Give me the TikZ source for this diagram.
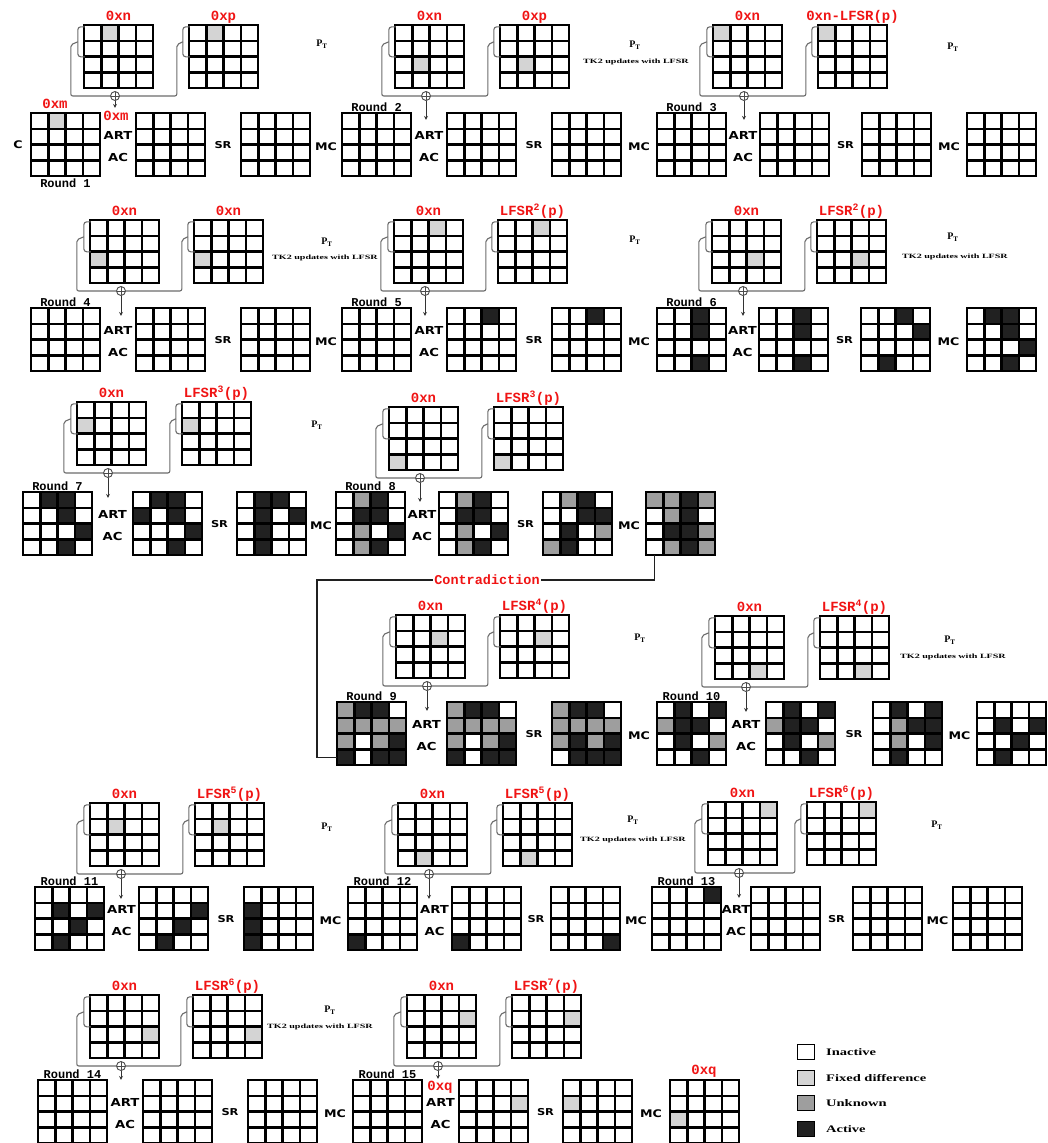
\documentclass[tikz,border=0pt]{standalone}
\usepackage{fontspec}
\usepackage{graphicx}
\setmainfont{Liberation Serif}
\newfontfamily\lblfont{Liberation Mono}
\newfontfamily\opfont{DejaVu Sans}
\usetikzlibrary{calc,arrows.meta}
\definecolor{cl0}{gray}{1}
\definecolor{cl1}{gray}{0.83}
\definecolor{cl2}{gray}{0.62}
\definecolor{cl3}{gray}{0.13}
\definecolor{redc}{RGB}{240,20,20}
\newcommand\allw{0,0,0,0,0,0,0,0,0,0,0,0,0,0,0,0}
\newcommand\hsc[2][1.2]{\scalebox{#1}[1]{#2}}
\tikzset{
  gbox/.style={rectangle, minimum width=69pt, minimum height=63pt, inner sep=0pt, draw=none},
  cellst/.style={draw=black, line width=2.5pt, line cap=rect},
  fb/.style={draw=gray!85!black, line width=1.1pt, rounded corners=2pt},
  xorn/.style={circle, draw=gray!60!black, line width=0.9pt, minimum size=9pt, inner sep=0pt,
    path picture={\draw[gray!60!black, line width=0.8pt] (path picture bounding box.north) -- (path picture bounding box.south) (path picture bounding box.west) -- (path picture bounding box.east);}},
  arr/.style={draw=gray!40!black, line width=0.9pt, -{Stealth[length=4pt,width=4pt]}},
  redlbl/.style={text=redc, font=\lblfont\bfseries\fontsize{14}{14}\selectfont, inner sep=0pt, anchor=base},
  rlbl/.style={font=\lblfont\bfseries\fontsize{12}{12}\selectfont, inner sep=0pt},
  oplbl/.style={font=\opfont\bfseries\fontsize{11}{11}\selectfont, inner sep=0pt},
  smop/.style={font=\opfont\bfseries\fontsize{9.5}{10}\selectfont, inner sep=0pt},
  mcop/.style={font=\opfont\bfseries\fontsize{10.5}{11}\selectfont, inner sep=0pt},
  ptl/.style={font=\bfseries\fontsize{10}{10}\selectfont, inner sep=0pt},
  tkt/.style={font=\bfseries\fontsize{6.5}{7}\selectfont, inner sep=0pt},
  contra/.style={draw=gray!25!black, line width=1.2pt},
  legsq/.style={rectangle, draw=black, line width=1.8pt, minimum width=17pt, minimum height=15pt, inner sep=0pt},
  legtxt/.style={font=\bfseries\fontsize{10}{10}\selectfont, inner sep=0pt, anchor=west}
}
\newcommand\stgrid[4]{%
  \node[gbox] (#1) at ({#2+34.5},{#3+31.5}) {};
  \edef\gpat{#4}%
  \foreach \cv [count=\k from 0] in \gpat {%
    \pgfmathtruncatemacro\cellr{\k/4}%
    \pgfmathtruncatemacro\cellc{mod(\k,4)}%
    \fill[cl\cv] ({#2+\cellc*17.25},{#3+\cellr*15.75}) rectangle ++(17.25,15.75);
  }%
  \foreach \j in {0,...,4} {%
    \draw[cellst] ({#2+\j*17.25},#3) -- ++(0,63);
    \draw[cellst] (#2,{#3+\j*15.75}) -- ++(69,0);
  }%
}
\newcommand\brk[1]{\draw[fb, rounded corners=3pt] ($(#1.north west)+(1,2)$) -- ($(#1.north west)+(-6,2)$) -- ($(#1.north west)+(-6,32)$) -- ($(#1.north west)+(1,32)$);}
\newcommand\tkr[7]{%
  \stgrid{t#1a}{#2}{#4}{#5}
  \stgrid{t#1b}{#3}{#4}{#5}
  \node[redlbl] (lt#1a) at ($(t#1a.north)+(0,-4)$) {0xn};
  \node[redlbl] (lt#1b) at ($(t#1b.north)+(0,-4)$) {#6};
  \node[xorn] (x#1) at ({#2+31},{#4+71}) {};
  \brk{t#1a}\brk{t#1b}
  \draw[fb] ($(t#1a.north west)+(-6,17)$) -- ($(t#1a.north west)+(-13,20)$) |- (x#1.west);
  \draw[fb] ($(t#1b.north west)+(-6,17)$) -- ($(t#1b.north west)+(-12,20)$) |- (x#1.east);
  \coordinate (ae#1) at ($(x#1.south)+(0,#7)$);
  \draw[arr] (x#1.south) -- (ae#1);
}
\newcommand\opsr[5]{%
  \node[oplbl] (art#1) at ($(#2.east)!0.5!(#3.west)+(0,-9)$) {\hsc{ART}};
  \node[oplbl] (ac#1) at ($(#2.east)!0.5!(#3.west)+(0,13)$) {\hsc{AC}};
  \node[smop] (sr#1) at ($(#3.east)!0.5!(#4.west)+(0,1)$) {\hsc{SR}};
  \node[mcop] (mc#1) at ($(#4.east)!0.5!(#5.west)+(0,2)$) {\hsc{MC}};
}
\begin{document}
\begin{tikzpicture}[x=1pt,y=-1pt]
\useasboundingbox (0,0) rectangle (1047,1143);
\fill[white] (0,0) rectangle (1047,1143);
% ---------- Row 1 ----------
\stgrid{s1a}{31}{113}{0,1,0,0,0,0,0,0,0,0,0,0,0,0,0,0}
\stgrid{s1b}{136}{113}{\allw}
\stgrid{s1c}{241}{113}{\allw}
\stgrid{s2a}{342}{113}{\allw}
\stgrid{s2b}{447}{113}{\allw}
\stgrid{s2c}{552}{113}{\allw}
\stgrid{s3a}{657}{113}{\allw}
\stgrid{s3b}{760}{113}{\allw}
\stgrid{s3c}{862}{113}{\allw}
\stgrid{s3d}{967}{113}{\allw}
\tkr{1}{84}{189}{25}{0,1,0,0,0,0,0,0,0,0,0,0,0,0,0,0}{0xp}{7}
\tkr{2}{395}{500}{25}{0,0,0,0,0,0,0,0,0,1,0,0,0,0,0,0}{0xp}{19}
\tkr{3}{713}{818}{25}{1,0,0,0,0,0,0,0,0,0,0,0,0,0,0,0}{0xn-LFSR(p)}{19}
\opsr{1}{s1a}{s1b}{s1c}{s2a}
\opsr{2}{s2a}{s2b}{s2c}{s3a}
\opsr{3}{s3a}{s3b}{s3c}{s3d}
\node[mcop] (cc) at (18,145) {\hsc{C}};
\node[redlbl] (m1) at (55,108) {0xm};
\node[redlbl] (m2) at (116,120) {0xm};
\node[ptl] (pt1) at (322,44) {P\textsubscript{T}};
\node[ptl] (pt2) at (635,45) {P\textsubscript{T}};
\node[tkt] (tk2) at (636,62) {\hsc[1.55]{TK2 updates with LFSR}};
\node[ptl] (pt3) at (953,47) {P\textsubscript{T}};
% ---------- Row 2 ----------
\stgrid{s4a}{31}{308}{\allw}
\stgrid{s4b}{136}{308}{\allw}
\stgrid{s4c}{241}{308}{\allw}
\stgrid{s5a}{342}{308}{\allw}
\stgrid{s5b}{447}{308}{0,0,3,0,0,0,0,0,0,0,0,0,0,0,0,0}
\stgrid{s5c}{552}{308}{0,0,3,0,0,0,0,0,0,0,0,0,0,0,0,0}
\stgrid{s6a}{657}{308}{0,0,3,0,0,0,3,0,0,0,0,0,0,0,3,0}
\stgrid{s6b}{759}{308}{0,0,3,0,0,0,3,0,0,0,0,0,0,0,3,0}
\stgrid{s6c}{861}{308}{0,0,3,0,0,0,0,3,0,0,0,0,0,3,0,0}
\stgrid{s6d}{967}{308}{0,3,3,0,0,0,3,0,0,0,0,3,0,0,3,0}
\tkr{4}{90}{194}{220}{0,0,0,0,0,0,0,0,1,0,0,0,0,0,0,0}{0xn}{20}
\tkr{5}{394}{498}{220}{0,0,1,0,0,0,0,0,0,0,0,0,0,0,0,0}{LFSR\textsuperscript{2}(p)}{20}
\tkr{6}{712}{817}{220}{0,0,0,0,0,0,0,0,0,0,1,0,0,0,0,0}{LFSR\textsuperscript{2}(p)}{20}
\opsr{4}{s4a}{s4b}{s4c}{s5a}
\opsr{5}{s5a}{s5b}{s5c}{s6a}
\opsr{6}{s6a}{s6b}{s6c}{s6d}
\node[ptl] (pt4) at (327,242) {P\textsubscript{T}};
\node[tkt] (tk4) at (325,258) {\hsc[1.55]{TK2 updates with LFSR}};
\node[ptl] (pt5) at (635,240) {P\textsubscript{T}};
\node[ptl] (pt6) at (953,237) {P\textsubscript{T}};
\node[tkt] (tk6) at (955,257) {\hsc[1.55]{TK2 updates with LFSR}};
% ---------- Row 3 ----------
\stgrid{s7a}{23}{492}{0,3,3,0,0,0,3,0,0,0,0,3,0,0,3,0}
\stgrid{s7b}{133}{492}{0,3,3,0,3,0,3,0,0,0,0,3,0,0,3,0}
\stgrid{s7c}{237}{492}{0,3,3,0,0,3,0,3,0,3,0,0,0,3,0,0}
\stgrid{s8a}{336}{492}{0,2,3,0,0,3,3,0,0,2,0,3,0,2,3,0}
\stgrid{s8b}{439}{492}{0,2,3,0,0,3,3,0,0,2,0,3,0,2,3,0}
\stgrid{s8c}{543}{492}{0,2,3,0,0,0,3,3,0,3,0,2,2,3,0,0}
\stgrid{s8d}{646}{492}{2,2,3,2,0,2,3,0,0,3,3,2,0,2,3,2}
\tkr{7}{77}{182}{402}{0,0,0,0,1,0,0,0,0,0,0,0,0,0,0,0}{LFSR\textsuperscript{3}(p)}{20}
\tkr{8}{389}{494}{407}{0,0,0,0,0,0,0,0,0,0,0,0,1,0,0,0}{LFSR\textsuperscript{3}(p)}{19}
\opsr{7}{s7a}{s7b}{s7c}{s8a}
\opsr{8}{s8a}{s8b}{s8c}{s8d}
\node[ptl] (pt7) at (317,425) {P\textsubscript{T}};
% ---------- Row 4 ----------
\stgrid{s9a}{337}{702}{2,3,3,0,2,2,2,2,2,0,2,3,3,0,3,3}
\stgrid{s9b}{447}{702}{2,3,3,0,2,2,2,2,2,0,2,3,3,0,3,3}
\stgrid{s9c}{552}{702}{2,3,3,0,2,2,2,2,2,3,2,3,0,3,3,3}
\stgrid{s10a}{657}{702}{0,3,0,3,2,3,3,0,0,3,0,2,0,0,3,0}
\stgrid{s10b}{766}{702}{0,3,0,3,2,3,3,0,0,3,0,2,0,0,3,0}
\stgrid{s10c}{873}{702}{0,3,0,3,0,2,3,3,0,2,0,3,0,3,0,0}
\stgrid{s10d}{977}{702}{0,0,0,0,0,3,0,3,0,0,3,0,0,3,0,0}
\tkr{9}{396}{500}{615}{0,0,0,0,0,0,1,0,0,0,0,0,0,0,0,0}{LFSR\textsuperscript{4}(p)}{20}
\tkr{10}{715}{820}{616}{0,0,0,0,0,0,0,0,0,0,0,0,0,0,1,0}{LFSR\textsuperscript{4}(p)}{20}
\opsr{9}{s9a}{s9b}{s9c}{s10a}
\opsr{10}{s10a}{s10b}{s10c}{s10d}
\node[ptl] (pt9) at (640,638) {P\textsubscript{T}};
\node[ptl] (pt10) at (950,640) {P\textsubscript{T}};
\node[tkt] (tk10) at (953,657) {\hsc[1.55]{TK2 updates with LFSR}};
% contradiction connector
\coordinate (cl) at (317,580);
\draw[contra] ($(s8d.south west)+(9,0)$) |- (cl) |- ($(s9a.south west)+(0,-8)$);
\node[text=redc, font=\lblfont\bfseries\fontsize{13.5}{14}\selectfont, fill=white, inner sep=1pt] (ctr) at (487,580) {Contradiction};
% ---------- Row 5 ----------
\stgrid{s11a}{35}{887}{0,0,0,0,0,3,0,3,0,0,3,0,0,3,0,0}
\stgrid{s11b}{139}{887}{0,0,0,0,0,0,0,3,0,0,3,0,0,3,0,0}
\stgrid{s11c}{244}{887}{0,0,0,0,3,0,0,0,3,0,0,0,3,0,0,0}
\stgrid{s12a}{348}{887}{0,0,0,0,0,0,0,0,0,0,0,0,3,0,0,0}
\stgrid{s12b}{452}{887}{0,0,0,0,0,0,0,0,0,0,0,0,3,0,0,0}
\stgrid{s12c}{551}{887}{0,0,0,0,0,0,0,0,0,0,0,0,0,0,0,3}
\stgrid{s13a}{652}{887}{0,0,0,3,0,0,0,0,0,0,0,0,0,0,0,0}
\stgrid{s13b}{751}{887}{\allw}
\stgrid{s13c}{853}{887}{\allw}
\stgrid{s13d}{953}{887}{\allw}
\tkr{11}{90}{195}{803}{0,0,0,0,0,1,0,0,0,0,0,0,0,0,0,0}{LFSR\textsuperscript{5}(p)}{20}
\tkr{12}{398}{503}{803}{0,0,0,0,0,0,0,0,0,0,0,0,0,1,0,0}{LFSR\textsuperscript{5}(p)}{20}
\tkr{13}{708}{807}{802}{0,0,0,1,0,0,0,0,0,0,0,0,0,0,0,0}{LFSR\textsuperscript{6}(p)}{20}
\opsr{11}{s11a}{s11b}{s11c}{s12a}
\opsr{12}{s12a}{s12b}{s12c}{s13a}
\opsr{13}{s13a}{s13b}{s13c}{s13d}
\node[ptl] (pt11) at (327,827) {P\textsubscript{T}};
\node[ptl] (pt12) at (633,820) {P\textsubscript{T}};
\node[tkt] (tk12) at (633,840) {\hsc[1.55]{TK2 updates with LFSR}};
\node[ptl] (pt13) at (937,825) {P\textsubscript{T}};
% ---------- Row 6 ----------
\stgrid{s14a}{38}{1080}{\allw}
\stgrid{s14b}{143}{1080}{\allw}
\stgrid{s14c}{248}{1080}{\allw}
\stgrid{s15a}{353}{1080}{\allw}
\stgrid{s15b}{459}{1080}{0,0,0,0,0,0,0,1,0,0,0,0,0,0,0,0}
\stgrid{s15c}{563}{1080}{0,0,0,0,1,0,0,0,0,0,0,0,0,0,0,0}
\stgrid{s15d}{670}{1080}{0,0,0,0,0,0,0,0,1,0,0,0,0,0,0,0}
\tkr{14}{90}{193}{995}{0,0,0,0,0,0,0,0,0,0,0,1,0,0,0,0}{LFSR\textsuperscript{6}(p)}{9}
\tkr{15}{407}{512}{995}{0,0,0,0,0,0,0,1,0,0,0,0,0,0,0,0}{LFSR\textsuperscript{7}(p)}{8}
\opsr{14}{s14a}{s14b}{s14c}{s15a}
\opsr{15}{s15a}{s15b}{s15c}{s15d}
\node[ptl] (pt14) at (330,1010) {P\textsubscript{T}};
\node[tkt] (tk14) at (320,1027) {\hsc[1.55]{TK2 updates with LFSR}};
\node[redlbl] (q1) at (440,1090) {0xq};
\node[redlbl] (q2) at (704,1074) {0xq};
% ---------- Round labels ----------
\node[rlbl, anchor=north] (rn1) at ($(s1a.south)+(0,2)$) {Round 1};
\node[rlbl, anchor=south] (rn2) at ($(s2a.north)+(0,-1)$) {Round 2};
\node[rlbl, anchor=south] (rn3) at ($(s3a.north)+(0,-1)$) {Round 3};
\node[rlbl, anchor=south] (rn4) at ($(s4a.north)+(0,-1)$) {Round 4};
\node[rlbl, anchor=south] (rn5) at ($(s5a.north)+(0,-1)$) {Round 5};
\node[rlbl, anchor=south] (rn6) at ($(s6a.north)+(0,-1)$) {Round 6};
\node[rlbl, anchor=south] (rn7) at ($(s7a.north)+(0,-1)$) {Round 7};
\node[rlbl, anchor=south] (rn8) at ($(s8a.north)+(0,-1)$) {Round 8};
\node[rlbl, anchor=south] (rn9) at ($(s9a.north)+(0,-1)$) {Round 9};
\node[rlbl, anchor=south] (rn10) at ($(s10a.north)+(0,-1)$) {Round 10};
\node[rlbl, anchor=south] (rn11) at ($(s11a.north)+(0,-1)$) {Round 11};
\node[rlbl, anchor=south] (rn12) at ($(s12a.north)+(0,-1)$) {Round 12};
\node[rlbl, anchor=south] (rn13) at ($(s13a.north)+(0,-1)$) {Round 13};
\node[rlbl, anchor=south] (rn14) at ($(s14a.north)+(0,-1)$) {Round 14};
\node[rlbl, anchor=south] (rn15) at ($(s15a.north)+(0,-1)$) {Round 15};
% ---------- Legend ----------
\node[legsq, fill=cl0] (lg0) at (806,1052) {};
\node[legsq, fill=cl1] (lg1) at (806,1078) {};
\node[legsq, fill=cl2] (lg2) at (806,1103) {};
\node[legsq, fill=cl3] (lg3) at (806,1129) {};
\node[legtxt] (lx0) at (826,1052) {\hsc[1.45]{Inactive}};
\node[legtxt] (lx1) at (826,1078) {\hsc[1.45]{Fixed difference}};
\node[legtxt] (lx2) at (826,1103) {\hsc[1.45]{Unknown}};
\node[legtxt] (lx3) at (826,1129) {\hsc[1.45]{Active}};
\end{tikzpicture}
\end{document}
